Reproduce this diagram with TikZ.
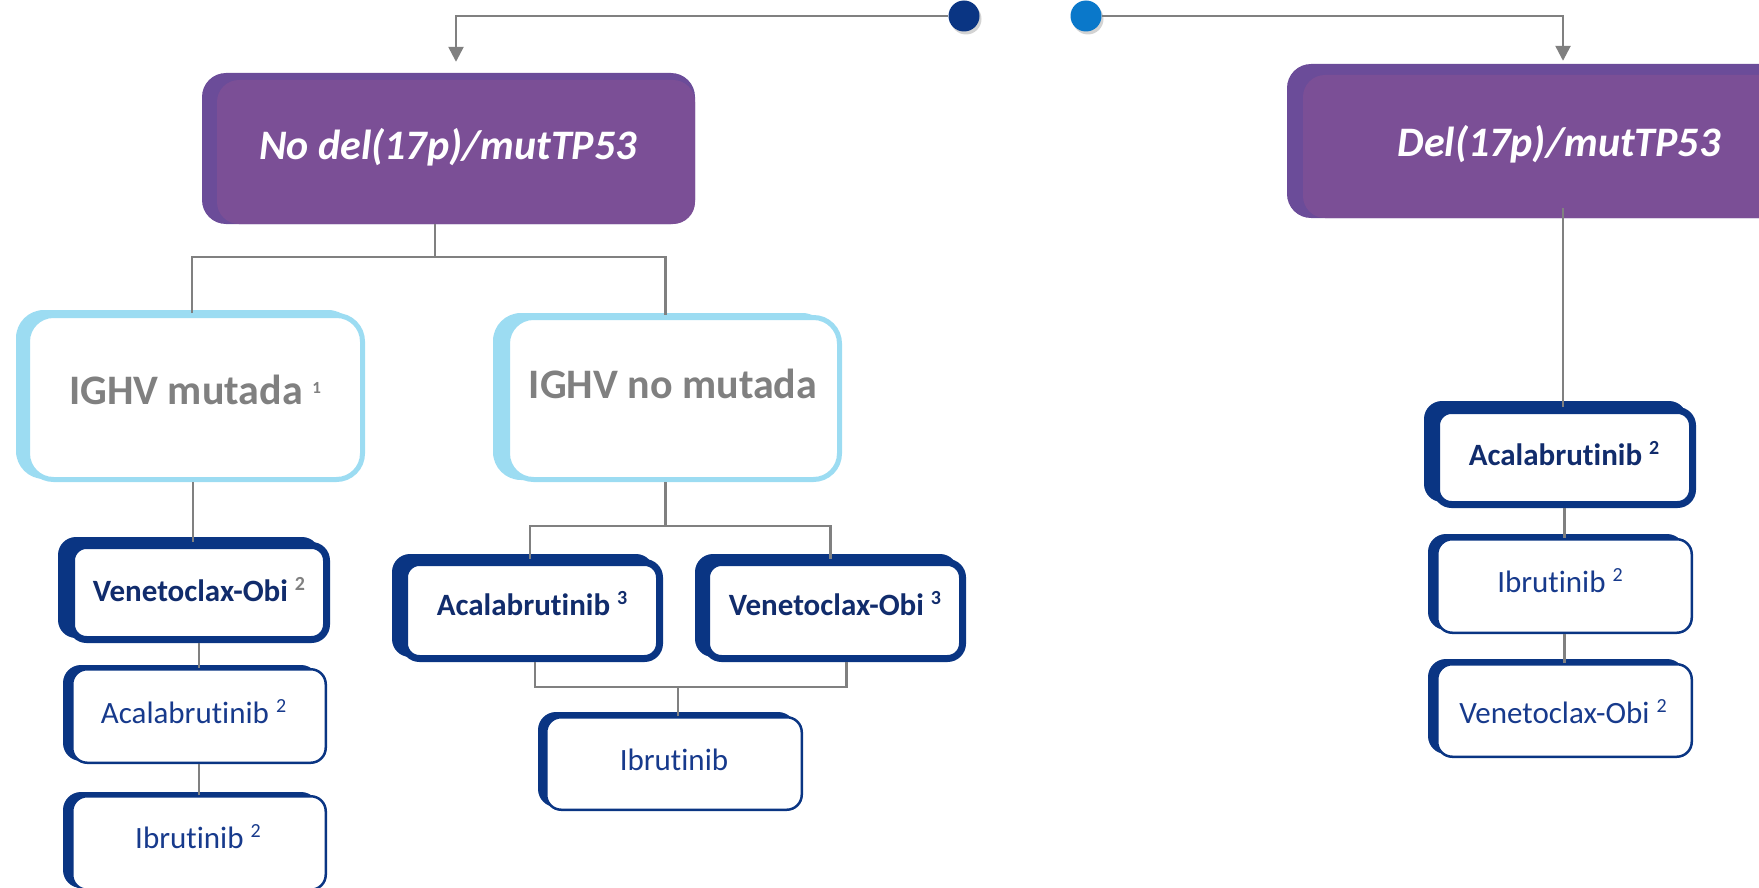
\documentclass[tikz,border=0pt]{standalone}
\usepackage{fontspec}
\setmainfont{Carlito}[RawFeature={-liga;-clig}]
\usetikzlibrary{arrows.meta,shadows}
\definecolor{purpfront}{HTML}{7B4F96}
\definecolor{purpback}{HTML}{6B4C99}
\definecolor{navy}{HTML}{0A3583}
\definecolor{textnavy}{HTML}{112C6C}
\definecolor{textblue}{HTML}{173A8C}
\definecolor{textgray}{HTML}{808080}
\definecolor{lightblue}{HTML}{9CDCF2}
\definecolor{linegray}{HTML}{808080}
\definecolor{dotlight}{HTML}{0A78CA}
\newcommand\supsm[1]{\raisebox{11pt}{\fontsize{20}{20}\selectfont #1}}
\newcommand\supbig[1]{\raisebox{11pt}{\fontsize{17}{17}\selectfont #1}}
\begin{document}
\begin{tikzpicture}[x=1pt,y=-1pt,
  conn/.style={draw=linegray, line width=2.5pt},
  arr/.style={-{Triangle[length=15pt,width=15pt]}},
  purplebox/.style={fill=purpfront, rounded corners=22pt, inner sep=0pt, draw=none},
  purpleback/.style={fill=purpback, rounded corners=24pt},
  ighvbox/.style={draw=lightblue, line width=5pt, fill=white, rounded corners=26pt, inner sep=0pt},
  ighvback/.style={fill=lightblue, rounded corners=28pt},
  boldbox/.style={draw=navy, line width=7pt, fill=white, rounded corners=15pt, inner sep=0pt},
  thinbox/.style={draw=navy, line width=2.5pt, fill=white, rounded corners=15pt, inner sep=0pt},
  navyback/.style={fill=navy, rounded corners=18pt},
  bigtxt/.style={anchor=base, font={\fontsize{42}{50}\selectfont\bfseries\itshape}, text=white, inner sep=0pt},
  ighvtxt/.style={anchor=base, font={\fontsize{42}{50}\selectfont\bfseries}, text=textgray, inner sep=0pt},
  boldtxt/.style={anchor=base, font={\fontsize{31}{37}\selectfont\bfseries}, text=textnavy, inner sep=0pt},
  regtxt/.style={anchor=base, font={\fontsize{31}{37}\selectfont}, text=textblue, inner sep=0pt},
  dot/.style={circle, minimum size=31pt, inner sep=0pt, drop shadow={shadow xshift=2pt, shadow yshift=-3pt, opacity=0.35}}
]
\useasboundingbox (0,0) rectangle (1759,888);
\clip (0,0) rectangle (1759,888);

% dots
\node[dot, fill=navy] (dot1) at (964,16) {};
\node[dot, fill=dotlight] (dot2) at (1086,16) {};

% purple boxes
\fill[purpleback] (202,73) rectangle (695,224);
\node[purplebox, minimum width=478pt, minimum height=144pt] (nodel) at (456,152) {};
\fill[purpleback] (1287,64) rectangle (1823,218);
\node[purplebox, minimum width=520pt, minimum height=143pt] (del) at (1563,146.5) {};
\node[bigtxt] (tnodel) at (448,160) {No del(17p)/mutTP53};
\node[bigtxt] (tdel) at (1559,157) {Del(17p)/mutTP53};

% IGHV boxes
\fill[ighvback] (16,310) rectangle (356,479);
\node[ighvbox, minimum width=335pt, minimum height=164pt] (ighv1) at (195,397.5) {};
\fill[ighvback] (493,313) rectangle (830,480);
\node[ighvbox, minimum width=332pt, minimum height=162pt] (ighv2) at (673.5,398.5) {};
\node[ighvtxt] (tighv1) at (195,404) {IGHV mutada \supbig{1}};
\node[ighvtxt] (tighv2) at (673,398) {IGHV no mutada};

% left column
\fill[navyback] (58,537) rectangle (320,638);
\node[boldbox, minimum width=255pt, minimum height=94pt] (v1) at (199,592.5) {};
\fill[navyback] (63,665) rectangle (319,761);
\node[thinbox, minimum width=253.5pt, minimum height=93.5pt] (a1) at (199,716) {};
\fill[navyback] (63,792) rectangle (319,888);
\node[thinbox, minimum width=253.5pt, minimum height=93.5pt] (i1) at (199,843) {};
\node[boldtxt] (tv1) at (199,601) {Venetoclax-Obi {\color{textgray}\supsm{2}}};
\node[regtxt] (ta1) at (193.5,723) {Acalabrutinib \supsm{2}};
\node[regtxt] (ti1) at (198,848) {Ibrutinib \supsm{2}};

% middle column
\fill[navyback] (392,554) rectangle (654,657);
\node[boldbox, minimum width=255pt, minimum height=96pt] (a3) at (532,610.5) {};
\fill[navyback] (695,554) rectangle (958,657);
\node[boldbox, minimum width=256pt, minimum height=96pt] (v3) at (834.5,610.5) {};
\fill[navyback] (538,712) rectangle (796,807);
\node[thinbox, minimum width=255.5pt, minimum height=92.5pt] (imid) at (674,763.5) {};
\node[boldtxt] (ta3) at (532,615) {Acalabrutinib \supsm{3}};
\node[boldtxt] (tv3) at (835,615) {Venetoclax-Obi \supsm{3}};
\node[regtxt] (timid) at (674,770) {Ibrutinib};

% right column
\fill[navyback] (1424,401) rectangle (1687,502);
\node[boldbox, minimum width=256pt, minimum height=94pt] (a2r) at (1564.5,457.5) {};
\fill[navyback] (1428,534) rectangle (1685,630);
\node[thinbox, minimum width=254.5pt, minimum height=93.5pt] (i2r) at (1564.5,586) {};
\fill[navyback] (1428,659) rectangle (1685,754);
\node[thinbox, minimum width=254.5pt, minimum height=92.5pt] (v2r) at (1564.5,710.5) {};
\node[boldtxt] (ta2r) at (1564,465) {Acalabrutinib \supsm{2}};
\node[regtxt] (ti2r) at (1560,592) {Ibrutinib \supsm{2}};
\node[regtxt] (tv2r) at (1563,723) {Venetoclax-Obi \supsm{2}};

% connectors
\draw[conn, arr] (dot1.west) -| ([yshift=18pt]nodel.north);
\draw[conn, arr] (dot2.east) -| ([yshift=14pt]del.north);

\draw[conn] ([xshift=-21pt]nodel.south) -- ++(0,33) coordinate (j1);
\draw[conn] ([xshift=-3pt]ighv1.north) |- (j1) -| ([xshift=-8pt]ighv2.north);
\draw[conn] ([xshift=-2pt]ighv1.south) -- ([xshift=-2pt]ighv1.south |- v1.north);
\draw[conn] (v1.south) -- (a1.north);
\draw[conn] (a1.south) -- (i1.north);

\draw[conn] ([xshift=-8pt]ighv2.south) -- ++(0,44) coordinate (j2);
\draw[conn] ([xshift=-2pt]a3.north) |- (j2) -| ([xshift=-4pt]v3.north);
\draw[conn] ([xshift=3pt]a3.south) -- ++(0,25) coordinate (j3) -| ([xshift=12pt]v3.south);
\draw[conn] ([xshift=4pt]imid.north) -- ([xshift=4pt]imid.north |- j3);

\draw[conn] ([yshift=10pt]del.south) -- (a2r.north -| del.south);
\draw[conn] (a2r.south) -- (i2r.north);
\draw[conn] (i2r.south) -- (v2r.north);
\end{tikzpicture}
\end{document}
